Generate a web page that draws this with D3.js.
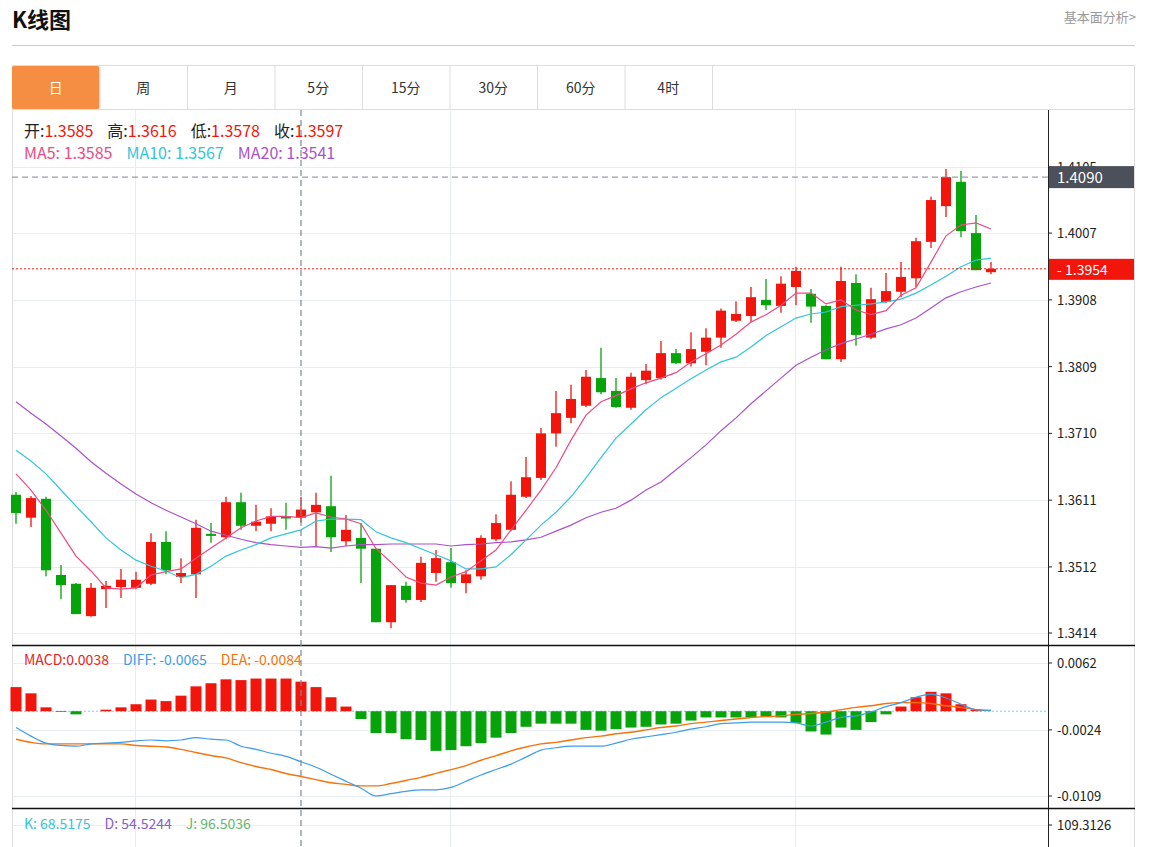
<!DOCTYPE html>
<html>
<head>
<meta charset="utf-8">
<script src="https://cdn.jsdelivr.net/npm/d3@7"></script>
<style>
  body { margin: 0; background: #fff; font-family: "Noto Sans CJK SC", "Noto Sans", sans-serif; }
</style>
</head>
<body>
<div id="chart"></div>
<script>
// --- data ---
const tabs = ["日", "周", "月", "5分", "15分", "30分", "60分", "4时"];
const open  = [1.3619,1.3585,1.3613,1.3500,1.3487,1.3439,1.3479,1.3482,1.3481,1.3487,1.3549,1.3497,1.3501,1.3561,1.3556,1.3608,1.3573,1.3576,1.3586,1.3585,1.3593,1.3602,1.3550,1.3555,1.3539,1.3430,1.3484,1.3463,1.3503,1.3519,1.3488,1.3498,1.3553,1.3567,1.3616,1.3644,1.3710,1.3733,1.3751,1.3792,1.3773,1.3748,1.3789,1.3792,1.3829,1.3814,1.3831,1.3852,1.3877,1.3884,1.3908,1.3899,1.3927,1.3917,1.3899,1.3820,1.3933,1.3852,1.3905,1.3920,1.3940,1.3994,1.4047,1.4083,1.4007,1.3949];
const high  = [1.3623,1.3617,1.3616,1.3515,1.3488,1.3488,1.3491,1.3509,1.3505,1.3562,1.3565,1.3525,1.3582,1.3577,1.3616,1.3622,1.3604,1.3599,1.3607,1.3616,1.3622,1.3647,1.3589,1.3577,1.3539,1.3485,1.3490,1.3527,1.3537,1.3540,1.3507,1.3559,1.3590,1.3639,1.3675,1.3718,1.3773,1.3782,1.3804,1.3837,1.3792,1.3800,1.3813,1.3847,1.3835,1.3860,1.3866,1.3895,1.3906,1.3927,1.3939,1.3943,1.3957,1.3924,1.3900,1.3957,1.3946,1.3926,1.3948,1.3964,1.4000,1.4061,1.4102,1.4099,1.4034,1.3964];
const low   = [1.3576,1.3571,1.3498,1.3464,1.3442,1.3438,1.3451,1.3466,1.3479,1.3485,1.3501,1.3488,1.3466,1.3548,1.3553,1.3567,1.3565,1.3565,1.3567,1.3578,1.3542,1.3534,1.3543,1.3488,1.3430,1.3421,1.3459,1.3460,1.3490,1.3481,1.3473,1.3493,1.3550,1.3565,1.3614,1.3641,1.3690,1.3725,1.3749,1.3768,1.3748,1.3745,1.3783,1.3790,1.3813,1.3809,1.3811,1.3837,1.3875,1.3875,1.3893,1.3889,1.3900,1.3874,1.3820,1.3816,1.3840,1.3850,1.3903,1.3912,1.3927,1.3985,1.4031,1.4001,1.3952,1.3946];
const close = [1.3592,1.3614,1.3507,1.3485,1.3442,1.3481,1.3484,1.3493,1.3493,1.3549,1.3507,1.3503,1.3570,1.3558,1.3608,1.3573,1.3579,1.3587,1.3585,1.3597,1.3604,1.3556,1.3567,1.3539,1.3430,1.3485,1.3463,1.3518,1.3525,1.3488,1.3501,1.3555,1.3577,1.3619,1.3645,1.3710,1.3740,1.3761,1.3794,1.3771,1.3749,1.3794,1.3803,1.3829,1.3814,1.3835,1.3852,1.3892,1.3887,1.3912,1.3900,1.3932,1.3951,1.3898,1.3820,1.3936,1.3856,1.3909,1.3921,1.3942,1.3995,1.4056,1.4090,1.4010,1.3952,1.3954];
const ma5  = [1.3650,1.3626,1.3596,1.3562,1.3528,1.3506,1.3481,1.3479,1.3481,1.3500,1.3505,1.3509,1.3525,1.3540,1.3555,1.3570,1.3580,1.3587,1.3587,1.3585,1.3592,1.3586,1.3583,1.3576,1.3539,1.3519,1.3497,1.3488,1.3485,1.3497,1.3505,1.3521,1.3537,1.3567,1.3596,1.3626,1.3659,1.3700,1.3737,1.3757,1.3766,1.3776,1.3785,1.3792,1.3800,1.3816,1.3828,1.3841,1.3857,1.3875,1.3886,1.3900,1.3918,1.3918,1.3902,1.3908,1.3893,1.3886,1.3892,1.3915,1.3926,1.3964,1.4003,1.4019,1.4022,1.4013];
const ma10 = [1.3685,1.3669,1.3650,1.3626,1.3602,1.3579,1.3555,1.3537,1.3522,1.3513,1.3506,1.3496,1.3501,1.3513,1.3528,1.3537,1.3545,1.3555,1.3561,1.3567,1.3580,1.3583,1.3583,1.3582,1.3564,1.3555,1.3548,1.3539,1.3530,1.3521,1.3509,1.3509,1.3512,1.3530,1.3552,1.3574,1.3593,1.3616,1.3644,1.3674,1.3703,1.3724,1.3745,1.3763,1.3777,1.3791,1.3804,1.3816,1.3823,1.3838,1.3855,1.3868,1.3881,1.3887,1.3890,1.3898,1.3900,1.3902,1.3905,1.3909,1.3918,1.3930,1.3943,1.3957,1.3967,1.3970];
const ma20 = [1.3757,1.3740,1.3724,1.3706,1.3688,1.3668,1.3651,1.3635,1.3620,1.3607,1.3596,1.3586,1.3576,1.3565,1.3559,1.3553,1.3548,1.3545,1.3543,1.3541,1.3542,1.3540,1.3543,1.3545,1.3545,1.3546,1.3546,1.3546,1.3546,1.3543,1.3545,1.3546,1.3548,1.3549,1.3552,1.3556,1.3565,1.3574,1.3585,1.3593,1.3599,1.3611,1.3626,1.3638,1.3656,1.3674,1.3693,1.3714,1.3733,1.3754,1.3773,1.3792,1.3811,1.3823,1.3834,1.3843,1.3850,1.3857,1.3865,1.3871,1.3881,1.3896,1.3911,1.3920,1.3927,1.3933];
const macd = [0.0031,0.0023,0.0005,-0.0001,-0.0004,0.0000,0.0002,0.0005,0.0009,0.0015,0.0013,0.0020,0.0032,0.0036,0.0041,0.0040,0.0042,0.0042,0.0042,0.0038,0.0031,0.0018,0.0006,-0.0010,-0.0028,-0.0028,-0.0036,-0.0037,-0.0051,-0.0050,-0.0045,-0.0041,-0.0034,-0.0028,-0.0020,-0.0016,-0.0016,-0.0016,-0.0024,-0.0025,-0.0023,-0.0021,-0.0020,-0.0017,-0.0016,-0.0012,-0.0008,-0.0008,-0.0008,-0.0008,-0.0007,-0.0008,-0.0015,-0.0026,-0.0030,-0.0021,-0.0024,-0.0014,-0.0004,0.0006,0.0018,0.0025,0.0023,0.0009,0.0002,0.0000];
const diff = [-0.0021,-0.0032,-0.0041,-0.0044,-0.0045,-0.0042,-0.0041,-0.0040,-0.0038,-0.0037,-0.0038,-0.0037,-0.0034,-0.0036,-0.0037,-0.0045,-0.0049,-0.0054,-0.0058,-0.0065,-0.0072,-0.0081,-0.0090,-0.0099,-0.0109,-0.0106,-0.0103,-0.0101,-0.0101,-0.0098,-0.0090,-0.0082,-0.0075,-0.0068,-0.0059,-0.0050,-0.0047,-0.0045,-0.0045,-0.0045,-0.0041,-0.0036,-0.0033,-0.0030,-0.0027,-0.0023,-0.0020,-0.0016,-0.0015,-0.0014,-0.0014,-0.0014,-0.0015,-0.0019,-0.0014,-0.0008,-0.0006,-0.0001,0.0006,0.0011,0.0018,0.0022,0.0017,0.0009,0.0002,0.0001];
const dea  = [-0.0036,-0.0040,-0.0042,-0.0042,-0.0042,-0.0042,-0.0042,-0.0042,-0.0044,-0.0045,-0.0046,-0.0049,-0.0053,-0.0057,-0.0060,-0.0066,-0.0071,-0.0075,-0.0080,-0.0084,-0.0088,-0.0092,-0.0094,-0.0096,-0.0096,-0.0093,-0.0089,-0.0085,-0.0080,-0.0075,-0.0070,-0.0063,-0.0057,-0.0051,-0.0046,-0.0042,-0.0040,-0.0037,-0.0034,-0.0032,-0.0029,-0.0027,-0.0024,-0.0021,-0.0019,-0.0016,-0.0014,-0.0012,-0.0010,-0.0008,-0.0007,-0.0006,-0.0004,-0.0003,-0.0001,0.0002,0.0005,0.0007,0.0010,0.0011,0.0011,0.0010,0.0007,0.0005,0.0002,0.0001];
const priceTicks = [1.3414, 1.3512, 1.3611, 1.3710, 1.3809, 1.3908, 1.4007, 1.4105];
const macdTicks = [0.0062, -0.0024, -0.0109];
const kdjTicks = [109.3126];
const hoverIdx = 19;
const hoverPrice = 1.4090;
const lastPrice = 1.3954;
const kdjLegend = { K: 68.5175, D: 54.5244, J: 96.5036 };

const W = 1170, H = 847;
const RED = "#f2150c", GREEN = "#06a30a";
const left = 12, right = 1135, axisX = 1048;

const svg = d3.select("#chart").append("svg").attr("width", W).attr("height", H);

// --- header ---
svg.append("text").attr("x", 12).attr("y", 28).attr("font-size", 22).attr("font-weight", "bold")
  .attr("fill", "#111").text("K线图");
svg.append("text").attr("x", 1136).attr("y", 22).attr("text-anchor", "end").attr("font-size", 13)
  .attr("fill", "#999").text("基本面分析>");
svg.append("line").attr("x1", left).attr("x2", right).attr("y1", 45.5).attr("y2", 45.5).attr("stroke", "#ccc");

// --- tabs ---
const tabW = 87.5;
svg.append("rect").attr("x", left + 0.5).attr("y", 65.5).attr("width", right - left - 1).attr("height", H - 65)
  .attr("fill", "none").attr("stroke", "#ddd");
svg.append("line").attr("x1", left).attr("x2", right).attr("y1", 109.5).attr("y2", 109.5).attr("stroke", "#ddd");
tabs.forEach((t, i) => {
  const x0 = left + i * tabW;
  if (i === 0) svg.append("rect").attr("x", x0).attr("y", 66).attr("width", tabW).attr("height", 43)
    .attr("rx", 2).attr("fill", "#f58d42");
  svg.append("line").attr("x1", x0 + tabW + 0.5).attr("x2", x0 + tabW + 0.5).attr("y1", 66).attr("y2", 109)
    .attr("stroke", "#ddd");
  svg.append("text").attr("x", x0 + tabW / 2).attr("y", 93).attr("text-anchor", "middle").attr("font-size", 14)
    .attr("fill", i === 0 ? "#fff" : "#333").text(t);
});

// --- scales ---
const x = d3.scaleLinear().domain([0, open.length - 1]).range([16, 991]);
const y = d3.scaleLinear().domain([1.3414, 1.4105]).range([633, 167]);
const ym = d3.scaleLinear().domain([-0.0109, 0.0062]).range([796, 663]);

// grid
const grid = svg.append("g").attr("stroke", "#e6edf3");
[135, 450, 795].forEach(gx => grid.append("line").attr("x1", gx + 0.5).attr("x2", gx + 0.5).attr("y1", 110).attr("y2", H));
priceTicks.forEach(t => grid.append("line").attr("x1", left).attr("x2", axisX).attr("y1", Math.round(y(t)) + 0.5).attr("y2", Math.round(y(t)) + 0.5));
macdTicks.forEach(t => grid.append("line").attr("x1", left).attr("x2", axisX).attr("y1", Math.round(ym(t)) + 0.5).attr("y2", Math.round(ym(t)) + 0.5));
grid.append("line").attr("x1", left).attr("x2", axisX).attr("y1", 825.5).attr("y2", 825.5);

// panel separators & right axis
svg.append("line").attr("x1", axisX + 0.5).attr("x2", axisX + 0.5).attr("y1", 110).attr("y2", H).attr("stroke", "#222");
[645.5, 808.5].forEach(sy => svg.append("line").attr("x1", left).attr("x2", right).attr("y1", sy).attr("y2", sy).attr("stroke", "#111").attr("stroke-width", 1.3));

// axis labels
const axisG = svg.append("g").attr("font-size", 13).attr("fill", "#222");
function tickLabel(py, txt) {
  axisG.append("line").attr("x1", axisX).attr("x2", axisX + 4).attr("y1", py).attr("y2", py).attr("stroke", "#222");
  axisG.append("text").attr("x", axisX + 9).attr("y", py + 5).text(txt);
}
priceTicks.forEach(t => tickLabel(y(t), t.toFixed(4)));
macdTicks.forEach(t => tickLabel(ym(t), t.toFixed(4)));
kdjTicks.forEach(t => tickLabel(825, t.toFixed(4)));

// --- candles ---
const cw = 10;
const cg = svg.append("g");
open.forEach((o, i) => {
  const c = close[i], col = c >= o ? RED : GREEN;
  cg.append("line").attr("x1", x(i)).attr("x2", x(i)).attr("y1", y(high[i])).attr("y2", y(low[i]))
    .attr("stroke", col).attr("stroke-width", 1.3);
  const top = y(Math.max(o, c)), bot = y(Math.min(o, c));
  cg.append("rect").attr("x", x(i) - cw / 2).attr("y", top).attr("width", cw).attr("height", Math.max(1.5, bot - top))
    .attr("fill", col);
});

// MA lines
const line = d3.line().x((d, i) => x(i)).y(d => y(d));
[[ma20, "#ab52c9"], [ma10, "#33c5da"], [ma5, "#ec4b81"]].forEach(([arr, col]) =>
  svg.append("path").attr("d", line(arr)).attr("fill", "none").attr("stroke", col).attr("stroke-width", 1.2));

// last price line
svg.append("line").attr("x1", left).attr("x2", axisX).attr("y1", y(lastPrice)).attr("y2", y(lastPrice))
  .attr("stroke", RED).attr("stroke-dasharray", "2,2");
svg.append("rect").attr("x", axisX + 1).attr("y", y(lastPrice) - 10).attr("width", right - axisX - 2).attr("height", 21).attr("fill", RED);
svg.append("text").attr("x", axisX + 9).attr("y", y(lastPrice) + 6).attr("font-size", 14).attr("fill", "#fff").text("- " + lastPrice.toFixed(4));

// --- MACD ---
const zero = ym(0);
svg.append("line").attr("x1", left).attr("x2", axisX).attr("y1", zero).attr("y2", zero)
  .attr("stroke", "#7cc8ee").attr("stroke-dasharray", "2,2");
macd.forEach((v, i) => {
  if (v === 0) return;
  svg.append("rect").attr("x", x(i) - 5.5).attr("width", 11)
    .attr("y", Math.min(ym(v), zero)).attr("height", Math.abs(ym(v) - zero))
    .attr("fill", v > 0 ? RED : GREEN);
});
const mline = d3.line().x((d, i) => x(i)).y(d => ym(d)).curve(d3.curveMonotoneX);
svg.append("path").attr("d", mline(dea)).attr("fill", "none").attr("stroke", "#f5730c").attr("stroke-width", 1.4);
svg.append("path").attr("d", mline(diff)).attr("fill", "none").attr("stroke", "#3e9ce8").attr("stroke-width", 1.2);

// --- crosshair ---
svg.append("line").attr("x1", x(hoverIdx)).attr("x2", x(hoverIdx)).attr("y1", 110).attr("y2", H)
  .attr("stroke", "#7b8794").attr("stroke-dasharray", "6,4").attr("stroke-width", 1.2);
svg.append("line").attr("x1", left).attr("x2", axisX).attr("y1", y(hoverPrice)).attr("y2", y(hoverPrice))
  .attr("stroke", "#7b8794").attr("stroke-dasharray", "6,4");
svg.append("rect").attr("x", axisX + 1).attr("y", y(hoverPrice) - 11).attr("width", right - axisX - 2).attr("height", 22).attr("fill", "#4b505b");
svg.append("text").attr("x", axisX + 9).attr("y", y(hoverPrice) + 6).attr("font-size", 15).attr("fill", "#fff").text(hoverPrice.toFixed(4));

// --- legends ---
function legend(yy, items, size) {
  const t = svg.append("text").attr("x", 24).attr("y", yy).attr("font-size", size);
  items.forEach(([s, col, gap]) => t.append("tspan").attr("fill", col).attr("dx", gap || 0).text(s));
}
const hi = hoverIdx;
legend(137, [["开:", "#222"], [open[hi].toFixed(4), RED], ["高:", "#222", 14], [high[hi].toFixed(4), RED],
  ["低:", "#222", 14], [low[hi].toFixed(4), RED], ["收:", "#222", 14], [close[hi].toFixed(4), RED]], 16);
legend(159, [["MA5: " + ma5[hi].toFixed(4), "#ec4b81"], ["MA10: " + ma10[hi].toFixed(4), "#33c5da", 14],
  ["MA20: " + ma20[hi].toFixed(4), "#ab52c9", 14]], 16);
legend(665, [["MACD:" + macd[hi].toFixed(4), "#e8251b"], ["DIFF: " + diff[hi].toFixed(4), "#3e9ce8", 14],
  ["DEA: " + dea[hi].toFixed(4), "#f5730c", 14]], 14);
legend(829, [["K: " + kdjLegend.K.toFixed(4), "#33c5da"], ["D: " + kdjLegend.D.toFixed(4), "#8a5cc9", 14],
  ["J: " + kdjLegend.J.toFixed(4), "#5fb870", 14]], 14);
</script>
</body>
</html>
